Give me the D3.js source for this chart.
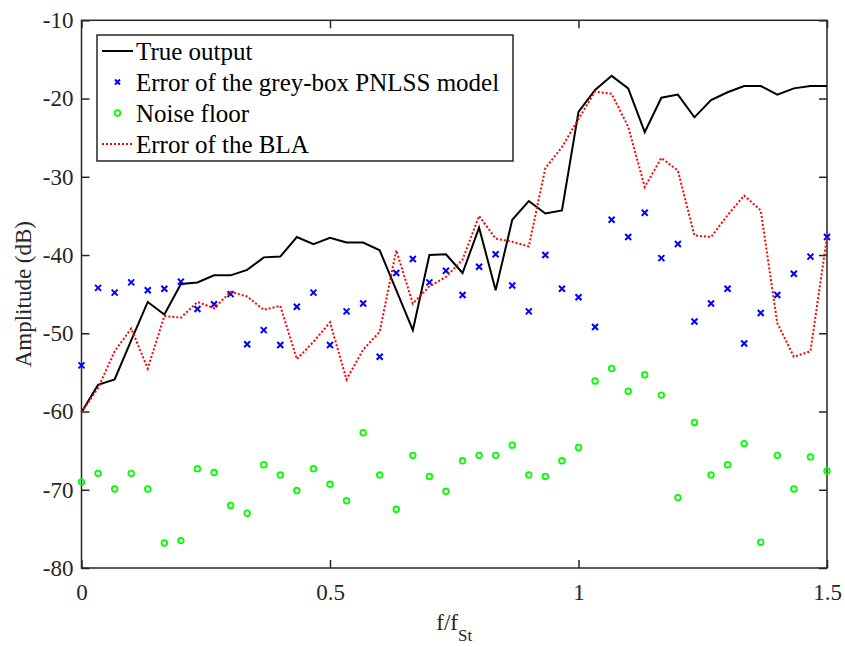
<!DOCTYPE html>
<html>
<head>
<meta charset="utf-8">
<script src="https://cdn.jsdelivr.net/npm/d3@7"></script>
<style>
  body { margin: 0; background: #fff; }
  text { font-family: "Liberation Serif", "Times New Roman", serif; }
</style>
</head>
<body>
<div id="chart"></div>
<script>
// Frequency axis f/f_St
const freq = [0, 0.0333, 0.0667, 0.1, 0.1333, 0.1667, 0.2, 0.2333, 0.2667, 0.3,
  0.3333, 0.3667, 0.4, 0.4333, 0.4667, 0.5, 0.5333, 0.5667, 0.6, 0.6333,
  0.6667, 0.7, 0.7333, 0.7667, 0.8, 0.8333, 0.8667, 0.9, 0.9333, 0.9667,
  1, 1.0333, 1.0667, 1.1, 1.1333, 1.1667, 1.2, 1.2333, 1.2667, 1.3,
  1.3333, 1.3667, 1.4, 1.4333, 1.4667, 1.5];

const trueOutput = [-60.1, -56.6, -55.9, -50.9, -46.0, -47.6, -43.7, -43.5, -42.6, -42.6,
  -41.9, -40.3, -40.2, -37.7, -38.6, -37.8, -38.4, -38.4, -39.4, -44.5,
  -49.6, -40.0, -39.9, -42.3, -36.5, -44.5, -35.5, -33.1, -34.7, -34.3,
  -21.7, -18.9, -17.1, -18.7, -24.3, -19.9, -19.5, -22.4, -20.2, -19.2,
  -18.4, -18.4, -19.5, -18.7, -18.4, -18.4];

const greyBoxError = [-54.1, -44.2, -44.8, -43.5, -44.5, -44.3, -43.4, -46.9, -46.3, -45.0,
  -51.4, -49.6, -51.5, -46.6, -44.8, -51.5, -47.2, -46.2, -53.0, -42.3,
  -40.5, -43.5, -42.0, -45.1, -41.5, -39.9, -43.9, -47.2, -40.0, -44.3,
  -45.4, -49.2, -35.5, -37.7, -34.6, -40.4, -38.6, -48.5, -46.2, -44.3,
  -51.3, -47.4, -45.1, -42.4, -40.2, -37.7];

const noiseFloor = [-69.0, -67.9, -69.9, -67.9, -69.9, -76.8, -76.5, -67.3, -67.8, -72.0,
  -73.0, -66.8, -68.1, -70.1, -67.3, -69.3, -71.4, -62.7, -68.1, -72.5,
  -65.6, -68.3, -70.2, -66.3, -65.6, -65.6, -64.3, -68.1, -68.3, -66.3,
  -64.6, -56.1, -54.5, -57.4, -55.3, -57.9, -71.0, -61.4, -68.1, -66.8,
  -64.1, -76.7, -65.6, -69.9, -65.8, -67.6];

const blaError = [-60.1, -57.0, -52.3, -49.4, -54.5, -47.8, -48.0, -46.0, -46.8, -44.7,
  -45.3, -47.0, -46.5, -53.3, -51.1, -48.6, -55.9, -52.1, -49.8, -39.4,
  -46.2, -44.0, -42.8, -40.6, -35.0, -37.9, -38.3, -38.9, -28.9, -26.2,
  -22.6, -19.1, -19.4, -23.6, -31.3, -27.6, -29.2, -37.5, -37.7, -34.9,
  -32.4, -34.3, -48.7, -53.0, -52.3, -37.7];

const xTicks = [0, 0.5, 1, 1.5];
const yTicks = [-80, -70, -60, -50, -40, -30, -20, -10];

const legendLabels = ["True output", "Error of the grey-box PNLSS model", "Noise floor", "Error of the BLA"];

// Dimensões
const svgWidth = 845;
const svgHeight = 647;
const margin = { top: 20.3, right: 18, bottom: 79, left: 81.5 };
const width = svgWidth - margin.left - margin.right;
const height = svgHeight - margin.top - margin.bottom;
const axisColor = "#262626";

const svg = d3.select("#chart")
  .append("svg")
  .attr("width", svgWidth)
  .attr("height", svgHeight)
  .append("g")
  .attr("transform", `translate(${margin.left}, ${margin.top})`);

// Escalas
const xScale = d3.scaleLinear().domain([0, 1.5]).range([0, width]);
const yScale = d3.scaleLinear().domain([-80, -10]).range([height, 0]);

// Eixos (ticks para dentro, como no MATLAB); hífen simples nos rótulos
const plainFormat = d => String(d);
const styleAxis = g => {
  g.select(".domain").remove();
  g.selectAll(".tick line").attr("stroke", axisColor).attr("stroke-width", 1.5);
  g.selectAll(".tick text").attr("fill", axisColor).attr("font-size", 23)
    .attr("font-family", "Liberation Serif, serif");
};

svg.append("g")
  .attr("transform", `translate(0, ${height})`)
  .call(d3.axisBottom(xScale).tickValues(xTicks).tickFormat(plainFormat).tickSizeInner(-8).tickPadding(16))
  .call(styleAxis)
  .call(g => g.selectAll(".tick text").attr("dy", "0.71em"));

svg.append("g")
  .call(d3.axisLeft(yScale).tickValues(yTicks).tickFormat(plainFormat).tickSizeInner(-8).tickPadding(8))
  .call(styleAxis);

svg.append("g")
  .call(d3.axisTop(xScale).tickValues(xTicks).tickSizeInner(-8).tickFormat(""))
  .call(styleAxis);

svg.append("g")
  .attr("transform", `translate(${width}, 0)`)
  .call(d3.axisRight(yScale).tickValues(yTicks).tickSizeInner(-8).tickFormat(""))
  .call(styleAxis);

// Caixa do gráfico
svg.append("rect")
  .attr("width", width)
  .attr("height", height)
  .attr("fill", "none")
  .attr("stroke", axisColor)
  .attr("stroke-width", 1.5);

// Rótulo do eixo X
const xLabel = svg.append("text")
  .attr("text-anchor", "middle")
  .attr("x", width / 2)
  .attr("y", height + 62)
  .attr("font-size", 23)
  .attr("fill", axisColor);
xLabel.append("tspan").text("f/f");
xLabel.append("tspan").attr("font-size", 17).attr("dy", 11).text("St");

// Rótulo do eixo Y
svg.append("text")
  .attr("text-anchor", "middle")
  .attr("transform", `translate(${31 - margin.left}, ${height / 2}) rotate(-90)`)
  .attr("font-size", 23)
  .attr("fill", axisColor)
  .text("Amplitude (dB)");

// Séries
const line = d3.line()
  .x((d, i) => xScale(freq[i]))
  .y(d => yScale(d));

svg.append("path")
  .datum(trueOutput)
  .attr("d", line)
  .attr("fill", "none")
  .attr("stroke", "#000")
  .attr("stroke-width", 2);

const xMark = s => `M${-s},${-s}L${s},${s}M${-s},${s}L${s},${-s}`;

svg.append("g")
  .selectAll("path")
  .data(greyBoxError)
  .join("path")
  .attr("transform", (d, i) => `translate(${xScale(freq[i])}, ${yScale(d)})`)
  .attr("d", xMark(3))
  .attr("stroke", "#0000ff")
  .attr("stroke-width", 2);

svg.append("g")
  .selectAll("circle")
  .data(noiseFloor)
  .join("circle")
  .attr("cx", (d, i) => xScale(freq[i]))
  .attr("cy", d => yScale(d))
  .attr("r", 2.8)
  .attr("fill", "none")
  .attr("stroke", "#00ff00")
  .attr("stroke-width", 1.8);

svg.append("path")
  .datum(blaError)
  .attr("d", line)
  .attr("fill", "none")
  .attr("stroke", "#ff0000")
  .attr("stroke-width", 2)
  .attr("stroke-dasharray", "2,2");

// Legenda
const legend = svg.append("g")
  .attr("transform", `translate(${97 - margin.left}, ${35 - margin.top})`);

legend.append("rect")
  .attr("width", 416)
  .attr("height", 126)
  .attr("fill", "#fff")
  .attr("stroke", axisColor)
  .attr("stroke-width", 1.5);

const rowY = i => 16 + i * 31;
const rows = legend.selectAll("g.row")
  .data(legendLabels)
  .join("g")
  .attr("class", "row")
  .attr("transform", (d, i) => `translate(0, ${rowY(i)})`);

rows.append("text")
  .attr("x", 39)
  .attr("dy", "0.35em")
  .attr("font-size", 25)
  .attr("fill", "#000")
  .text(d => d);

legend.append("line")
  .attr("x1", 5).attr("x2", 36)
  .attr("y1", rowY(0)).attr("y2", rowY(0))
  .attr("stroke", "#000").attr("stroke-width", 2);

legend.append("path")
  .attr("transform", `translate(20.5, ${rowY(1)})`)
  .attr("d", xMark(2.5))
  .attr("stroke", "#0000ff").attr("stroke-width", 2);

legend.append("circle")
  .attr("cx", 20.5).attr("cy", rowY(2)).attr("r", 2.8)
  .attr("fill", "none").attr("stroke", "#00ff00").attr("stroke-width", 1.8);

legend.append("line")
  .attr("x1", 5).attr("x2", 36)
  .attr("y1", rowY(3)).attr("y2", rowY(3))
  .attr("stroke", "#ff0000").attr("stroke-width", 2)
  .attr("stroke-dasharray", "2,2");
</script>
</body>
</html>
